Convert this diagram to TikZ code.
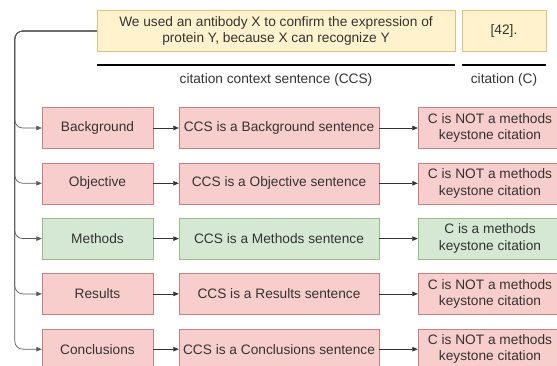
\documentclass[tikz,border=0pt]{standalone}
\usepackage{fontspec}
\setmainfont{Liberation Sans}
\usetikzlibrary{arrows.meta}
\definecolor{pinkfill}{HTML}{F8CECC}
\definecolor{pinkline}{HTML}{C7807C}
\definecolor{greenfill}{HTML}{D5E8D4}
\definecolor{greenline}{HTML}{97BE80}
\definecolor{yellowfill}{HTML}{FFF2CC}
\definecolor{yellowline}{HTML}{DCC27A}
\definecolor{textgray}{HTML}{333333}
\definecolor{trunkgray}{HTML}{5A5A5A}
\tikzset{
  box/.style={draw, minimum height=41pt, align=center, inner sep=2pt, text=textgray,
    font=\fontsize{13.7}{16.5}\selectfont},
  txt/.style={text=textgray, inner sep=0pt, font=\fontsize{13.7}{16.5}\selectfont},
  link/.style={-{Triangle[length=5.5pt,width=4.5pt]}, draw=textgray, line width=0.7pt},
  branch/.style={link, draw=trunkgray, rounded corners=8pt}
}
\begin{document}
\begin{tikzpicture}[x=1pt,y=-1pt]
  \useasboundingbox (0,0) rectangle (557,366);
  % the citing sentence and its citation
  \node[box,fill=yellowfill,draw=yellowline,minimum width=358pt] (ctx) at (276,31)
    {We used an antibody X to confirm the expression of\\protein Y, because X can recognize Y};
  \node[box,fill=yellowfill,draw=yellowline,minimum width=84pt] (cit) at (504,31) {[42].};
  \draw[line width=1.2pt] (97,65) -- (455,65);
  \draw[line width=1.2pt] (462,65) -- (546,65);
  \node[txt] (ccslab) at (276,80) {citation context sentence (CCS)};
  \node[txt] (clab) at (504,80) {citation (C)};
  % one row per section
  \foreach \i/\sec/\fc/\dc/\res in {0/Background/pinkfill/pinkline/{C is NOT a methods},
      1/Objective/pinkfill/pinkline/{C is NOT a methods},
      2/Methods/greenfill/greenline/{C is a methods},
      3/Results/pinkfill/pinkline/{C is NOT a methods},
      4/Conclusions/pinkfill/pinkline/{C is NOT a methods}} {
    \node[box,fill=\fc,draw=\dc,minimum width=111pt] (sec\i) at (97.5,128+55.3*\i) {\sec};
    \node[box,fill=\fc,draw=\dc,minimum width=200pt] (ccs\i) at (279,128+55.3*\i) {CCS is a \sec\ sentence};
    \node[box,fill=\fc,draw=\dc,minimum width=144pt] (c\i) at (490,128+55.3*\i) {\res\\keystone citation};
    \draw[branch] (ctx.west) -- ++(-82,0) |- (sec\i.west);
    \draw[link] (sec\i) -- (ccs\i);
    \draw[link] (ccs\i) -- (c\i);
  }
\end{tikzpicture}
\end{document}
